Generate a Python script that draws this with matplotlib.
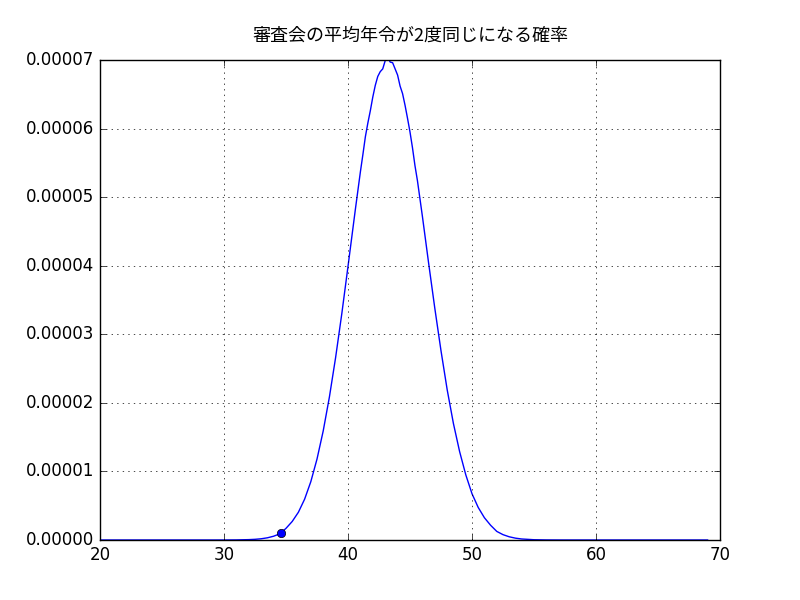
import matplotlib
matplotlib.use("Agg")
import matplotlib.pyplot as plt
from matplotlib.ticker import FormatStrFormatter
import numpy as np

# average age of the committee vs probability (in units of 1e-5)
ages = [20, 21, 22, 23, 24, 25, 26, 27, 28, 29,
        30, 31, 32, 32.5, 33, 33.5, 34, 34.5, 35, 35.5,
        36, 36.5, 37, 37.5, 38, 38.5, 39, 39.5, 40, 40.5,
        40.6, 40.8, 41.0, 41.2, 41.4, 41.6, 41.8, 42.0, 42.2, 42.4,
        42.6, 42.8, 43.0, 43.2, 43.4, 43.6, 43.8, 44.0, 44.2, 44.4,
        44.6, 44.8, 45.0, 45.2, 45.4, 45.6, 45.8, 46.0,
        46.5, 47, 47.5, 48, 48.5, 49, 49.5, 50, 50.5, 51,
        51.5, 52, 52.5, 53, 53.5, 54, 55, 56, 57, 58,
        59, 60, 61, 62, 63, 64, 65, 66, 67, 68, 69]
prob_e5 = [0, 0, 0, 0, 0, 0, 0, 0, 0, 0,
           0.0003, 0.0014, 0.0055, 0.010, 0.018, 0.032, 0.055, 0.09, 0.17, 0.27,
           0.405, 0.595, 0.85, 1.18, 1.59, 2.085, 2.66, 3.30, 3.99, 4.69,
           4.83, 5.10, 5.37, 5.62, 5.88, 6.08, 6.26, 6.46, 6.63, 6.76,
           6.83, 6.87, 6.99, 7.04, 6.97, 6.96, 6.87, 6.78, 6.62, 6.51,
           6.34, 6.15, 5.95, 5.72, 5.46, 5.24, 4.98, 4.72,
           4.04, 3.38, 2.76, 2.19, 1.70, 1.29, 0.95, 0.675, 0.475, 0.325,
           0.215, 0.125, 0.078, 0.047, 0.027, 0.015, 0.004, 0.001, 0.0002, 0,
           0, 0, 0, 0, 0, 0, 0, 0, 0, 0, 0]
SCALE = 1e-5

# highlighted point
mark_age = 34.6
mark_prob = 0.098e-5

plt.style.use("classic")
plt.rcParams["font.family"] = ["DejaVu Sans"]

fig = plt.figure(figsize=(8, 6), dpi=100, facecolor="white")
ax = fig.add_axes([0.125, 0.1, 0.775, 0.8])

ax.plot(ages, np.array(prob_e5) * SCALE, "b-")
ax.plot([mark_age], [mark_prob], "bo")

ax.set_xlim(20, 70)
ax.set_ylim(0, 0.00007)
ax.yaxis.set_major_formatter(FormatStrFormatter("%.5f"))
ax.grid(True)
ax.set_title("審査会の平均年令が2度同じになる確率",
             family=["Noto Sans CJK JP", "DejaVu Sans"], fontsize=13, y=1.025)

fig.savefig("out.png", dpi=100, facecolor="white")
